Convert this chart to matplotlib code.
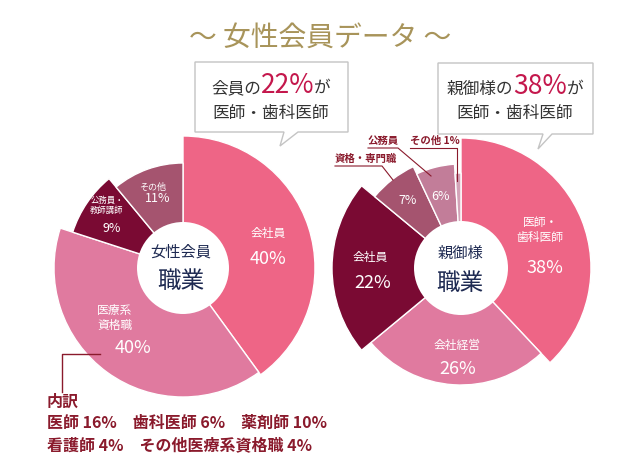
import matplotlib
matplotlib.use("Agg")
import matplotlib.pyplot as plt
from matplotlib.patches import Circle, Polygon

plt.rcParams["font.family"] = ["Noto Sans CJK JP", "DejaVu Sans"]

W, H = 640, 456

# ── data ──────────────────────────────────────────────────────────────────────
left_labels = ["会社員", "医療系\n資格職", "公務員・\n教師講師", "その他"]
left_values = [40, 40, 9, 11]

right_labels = ["医師・\n歯科医師", "会社経営", "会社員", "資格・専門職", "公務員", "その他"]
right_values = [38, 26, 22, 7, 6, 1]

detail_labels = ["医師", "歯科医師", "薬剤師", "看護師", "その他医療系資格職"]
detail_values = [16, 6, 10, 4, 4]

left_doctor_share = 22
right_doctor_share = 38

# ── style ─────────────────────────────────────────────────────────────────────
PINK, ROSE, MAROON = "#ee6586", "#e07a9f", "#7a0a33"
MAUVE, LIGHT, PALE = "#a5546f", "#c27d99", "#d3a3b8"
RED = "#8a1a2c"
NAVY = "#1e2a52"
CRIMSON = "#c4174c"

left_colors = [PINK, ROSE, MAROON, MAUVE]
left_radii = [132, 129, 116, 105]
right_colors = [PINK, ROSE, MAROON, MAUVE, LIGHT, PALE]
right_radii = [130, 117, 129, 112, 104, 95]

fig = plt.figure(figsize=(6.4, 4.56), dpi=100)
ax = fig.add_axes([0, 0, 1, 1])
renderer = fig.canvas.get_renderer()


def donut(values, colors, radii, cx, cy, hole):
    wedges, _ = ax.pie(values, colors=colors, startangle=90, counterclock=False,
                       center=(cx, H - cy), radius=max(radii), frame=True,
                       wedgeprops=dict(edgecolor="white", linewidth=1.0))
    for w, r in zip(wedges, radii):
        w.set_radius(r)
    ax.add_patch(Circle((cx, H - cy), hole, facecolor="white",
                        edgecolor="none", zorder=3))


def txt(x, y, s, size, color="white", **kw):
    ax.text(x, H - y, s, fontsize=size, color=color, ha="center", va="center",
            zorder=6, linespacing=1.15, **kw)


def runs(x, y, parts):
    # one line of mixed-size text, centred on x, baseline at y
    items = [ax.text(0, H - y, s, fontsize=size, color=c, ha="left",
                     va="baseline", zorder=6) for s, size, c in parts]
    widths = [t.get_window_extent(renderer).width for t in items]
    x0 = x - sum(widths) / 2
    for t, w in zip(items, widths):
        t.set_x(x0)
        x0 += w


def callout(pts):
    ax.add_patch(Polygon([(x, H - y) for x, y in pts], closed=True,
                         facecolor="white", edgecolor="#c4c4c4", lw=1.0, zorder=5))


# title
txt(320, 38, "～ 女性会員データ ～", 20, color="#a8945a")

# ── left donut ────────────────────────────────────────────────────────────────
donut(left_values, left_colors, left_radii, 183, 269, 46)
txt(181, 252, "女性会員", 11, NAVY)
txt(181, 282, "職業", 17, NAVY)

txt(268, 234, left_labels[0], 8.5)
txt(268, 259, f"{left_values[0]}%", 13)
txt(115, 318, left_labels[1], 8.5)
txt(133, 348, f"{left_values[1]}%", 13)
txt(107, 205, left_labels[2], 6)
txt(112, 228, f"{left_values[2]}%", 9)
txt(153, 187, left_labels[3], 6.5)
txt(158, 199, f"{left_values[3]}%", 9)

callout([(195, 63), (348, 63), (348, 133), (298, 133), (280, 147),
         (284, 133), (195, 133)])
runs(271, 93, [("会員の", 12, "#333333"), (f"{left_doctor_share}%", 19, CRIMSON),
               ("が", 12, "#333333")])
runs(271, 118, [("医師・歯科医師", 12, "#333333")])

# breakdown of medical-licence share
ax.plot([100, 62, 62], [H - 355, H - 355, H - 393], color=RED, lw=1.0, zorder=4)
ax.text(47, H - 402, "内訳", fontsize=11.5, color=RED, ha="left", va="center",
        fontweight="bold")
row1 = "　".join(f"{l} {v}%" for l, v in zip(detail_labels[:3], detail_values[:3]))
row2 = "　".join(f"{l} {v}%" for l, v in zip(detail_labels[3:], detail_values[3:]))
ax.text(47, H - 423, row1, fontsize=11.5, color=RED, ha="left", va="center",
        fontweight="bold")
ax.text(47, H - 445, row2, fontsize=11.5, color=RED, ha="left", va="center",
        fontweight="bold")

# ── right donut ───────────────────────────────────────────────────────────────
donut(right_values, right_colors, right_radii, 461, 269, 47)
txt(460, 253, "親御様", 11, NAVY)
txt(460, 283, "職業", 17, NAVY)

txt(540, 230, right_labels[0], 8.5)
txt(545, 268, f"{right_values[0]}%", 13)
txt(457, 345, right_labels[1], 8.5)
txt(458, 369, f"{right_values[1]}%", 13)
txt(370, 257, right_labels[2], 8.5)
txt(373, 283, f"{right_values[2]}%", 13)
txt(408, 200, f"{right_values[3]}%", 9)
txt(441, 197, f"{right_values[4]}%", 9)

# outer labels with leader lines
ax.text(335, H - 162, right_labels[3], fontsize=7.5, color=RED, ha="left",
        va="baseline", fontweight="bold")
ax.plot([335, 382, 393], [H - 167, H - 167, H - 181], color=RED, lw=0.8)
ax.text(368, H - 144, right_labels[4], fontsize=7.5, color=RED, ha="left",
        va="baseline", fontweight="bold")
ax.plot([368, 398, 431], [H - 149, H - 149, H - 177], color=RED, lw=0.8)
ax.text(410, H - 144, f"{right_labels[5]} {right_values[5]}%", fontsize=7.5,
        color=RED, ha="left", va="baseline", fontweight="bold")
ax.plot([410, 457, 457], [H - 149, H - 149, H - 182], color=RED, lw=0.8)

callout([(438, 64), (593, 64), (593, 135), (552, 135), (538, 150),
          (543, 135), (438, 135)])
runs(515, 94, [("親御様の", 12, "#333333"), (f"{right_doctor_share}%", 19, CRIMSON),
               ("が", 12, "#333333")])
runs(515, 118, [("医師・歯科医師", 12, "#333333")])

ax.set_xlim(0, W)
ax.set_ylim(0, H)
ax.set_aspect("auto")
ax.axis("off")

fig.savefig("out.png", dpi=100)
